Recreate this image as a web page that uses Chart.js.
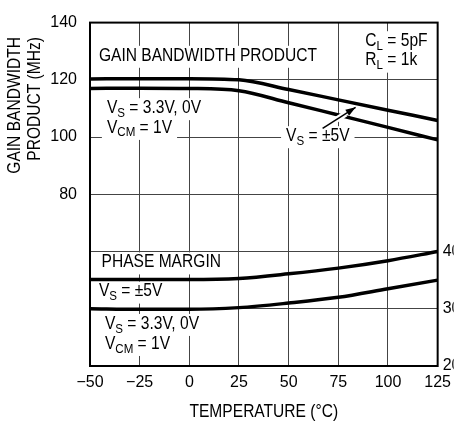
<!DOCTYPE html>
<html lang="en">
<head>
<meta charset="UTF-8">
<title>Gain Bandwidth and Phase Margin vs Temperature</title>
<script src="https://cdn.jsdelivr.net/npm/chart.js"></script>
<style>
  html, body { margin: 0; padding: 0; background: #fff; overflow: hidden; }
  .chart-box { position: relative; width: 458px; height: 423px; }
</style>
</head>
<body>
<div class="chart-box"><canvas id="gbw-chart"></canvas></div>
<script>
// temperature points (°C)
const temps = [-50, -25, 0, 25, 50, 75, 100, 125];
// gain bandwidth product (MHz), left axis
const gbwDual5V = [120.3, 120.4, 120.4, 120.0, 116.6, 113.0, 109.4, 105.8];
const gbw3V3 = [117.0, 117.1, 117.0, 116.2, 112.0, 107.7, 103.4, 99.0];
// phase margin (deg), right axis
const pmDual5V = [35.1, 35.1, 35.1, 35.3, 36.1, 37.1, 38.4, 40.0];
const pm3V3 = [30.0, 29.9, 29.9, 30.2, 31.0, 32.0, 33.5, 35.0];
// tick labels that are printed
const gbwTickLabels = [80, 100, 120, 140];
const pmTickLabels = [20, 30, 40];

const FONT = '"Liberation Sans", Arial, sans-serif';
const SX = 0.89; // horizontal squeeze to get a condensed look

// text notes, placed in data space: t = temperature, v = value on the given axis
const notes = [
  { axis: 'y',  t: -45.5, v: 128.4, parts: [['GAIN BANDWIDTH PRODUCT']] },
  { axis: 'y',  t: 88.6,  v: 133.5, parts: [['C'], ['L', 1], [' = 5pF']] },
  { axis: 'y',  t: 88.6,  v: 126.7, parts: [['R'], ['L', 1], [' = 1k']] },
  { axis: 'y',  t: -41.5, v: 110.1, parts: [['V'], ['S', 1], [' = 3.3V, 0V']] },
  { axis: 'y',  t: -41.5, v: 103.2, parts: [['V'], ['CM', 1], [' = 1V']] },
  { axis: 'y',  t: 48.7,  v: 100.3, parts: [['V'], ['S', 1], [' = \u00b15V']] },
  { axis: 'y1', t: -44.2, v: 38.1,  parts: [['PHASE MARGIN']] },
  { axis: 'y1', t: -45.5, v: 33.0,  parts: [['V'], ['S', 1], [' = \u00b15V']] },
  { axis: 'y1', t: -42.5, v: 27.35, parts: [['V'], ['S', 1], [' = 3.3V, 0V']] },
  { axis: 'y1', t: -42.5, v: 23.85, parts: [['V'], ['CM', 1], [' = 1V']] }
];
const arrowFrom = { t: 67.1, v: 103.0 };
const arrowTo = { t: 83.7, v: 110.4 };

function toPoints(ys) {
  return temps.map((t, i) => ({ x: t, y: ys[i] }));
}

function partFont(p) {
  return (p[1] ? '13px ' : '17.5px ') + FONT;
}

function measureParts(ctx, parts) {
  let w = 0;
  parts.forEach(p => {
    ctx.font = partFont(p);
    w += ctx.measureText(p[0]).width;
  });
  return w * SX;
}

function drawParts(ctx, x, cy, parts) {
  ctx.save();
  ctx.translate(x, cy);
  ctx.scale(SX, 1);
  ctx.textBaseline = 'middle';
  ctx.textAlign = 'left';
  let lx = 0;
  parts.forEach(p => {
    ctx.font = partFont(p);
    ctx.fillText(p[0], lx, p[1] ? 5 : 0);
    lx += ctx.measureText(p[0]).width;
  });
  ctx.restore();
}

function drawSqueezed(ctx, txt, x, y, rot, size, align) {
  ctx.save();
  ctx.translate(x, y);
  ctx.rotate(rot);
  ctx.scale(SX, 1);
  ctx.font = size + 'px ' + FONT;
  ctx.textAlign = align;
  ctx.textBaseline = 'middle';
  ctx.fillText(txt, 0, 0);
  ctx.restore();
}

const notesPlugin = {
  id: 'notes',
  beforeDatasetsDraw(chart) {
    const ctx = chart.ctx;
    const xs = chart.scales.x;
    ctx.save();
    notes.forEach(n => {
      const px = xs.getPixelForValue(n.t);
      const py = chart.scales[n.axis].getPixelForValue(n.v);
      const w = measureParts(ctx, n.parts);
      ctx.fillStyle = '#fff';
      ctx.fillRect(px - 5, py - 10, w + 10, 22);
      ctx.fillStyle = '#000';
      drawParts(ctx, px, py, n.parts);
    });
    ctx.restore();
  },
  afterDatasetsDraw(chart) {
    const ctx = chart.ctx;
    const xs = chart.scales.x, ys = chart.scales.y;
    const x1 = xs.getPixelForValue(arrowFrom.t), y1 = ys.getPixelForValue(arrowFrom.v);
    const x2 = xs.getPixelForValue(arrowTo.t), y2 = ys.getPixelForValue(arrowTo.v);
    ctx.save();
    // white halo where the arrow crosses the lower curve
    ctx.strokeStyle = '#fff';
    ctx.lineWidth = 6;
    ctx.beginPath();
    ctx.moveTo(x1 + (x2 - x1) * 0.3, y1 + (y2 - y1) * 0.3);
    ctx.lineTo(x1 + (x2 - x1) * 0.7, y1 + (y2 - y1) * 0.7);
    ctx.stroke();
    ctx.strokeStyle = '#000';
    ctx.lineWidth = 1.5;
    ctx.beginPath();
    ctx.moveTo(x1, y1);
    ctx.lineTo(x2, y2);
    ctx.stroke();
    const a = Math.atan2(y2 - y1, x2 - x1);
    ctx.fillStyle = '#000';
    ctx.beginPath();
    ctx.moveTo(x2, y2);
    ctx.lineTo(x2 - 10 * Math.cos(a) + 3.5 * Math.sin(a), y2 - 10 * Math.sin(a) - 3.5 * Math.cos(a));
    ctx.lineTo(x2 - 10 * Math.cos(a) - 3.5 * Math.sin(a), y2 - 10 * Math.sin(a) + 3.5 * Math.cos(a));
    ctx.closePath();
    ctx.fill();
    ctx.restore();
  },
  afterDraw(chart) {
    const ctx = chart.ctx;
    const a = chart.chartArea;
    ctx.save();
    // frame
    ctx.strokeStyle = '#000';
    ctx.lineWidth = 2;
    ctx.strokeRect(a.left, a.top, a.right - a.left, a.bottom - a.top);
    ctx.fillStyle = '#000';
    // two line left axis title, end aligned towards the top
    drawSqueezed(ctx, 'GAIN BANDWIDTH', 15, 37, -Math.PI / 2, 17.5, 'right');
    drawSqueezed(ctx, 'PRODUCT (MHz)', 35.5, 37, -Math.PI / 2, 17.5, 'right');
    // x axis title
    drawSqueezed(ctx, 'TEMPERATURE (\u00b0C)', (a.left + a.right) / 2, 412, 0, 17.5, 'center');
    ctx.restore();
  }
};

new Chart(document.getElementById('gbw-chart').getContext('2d'), {
  type: 'line',
  data: {
    datasets: [
      { label: 'GBW VS = ±5V', data: toPoints(gbwDual5V), yAxisID: 'y' },
      { label: 'GBW VS = 3.3V, 0V', data: toPoints(gbw3V3), yAxisID: 'y' },
      { label: 'PM VS = ±5V', data: toPoints(pmDual5V), yAxisID: 'y1' },
      { label: 'PM VS = 3.3V, 0V', data: toPoints(pm3V3), yAxisID: 'y1' }
    ].map(d => Object.assign(d, {
      borderColor: '#000', borderWidth: 3.5, pointRadius: 0, fill: false,
      cubicInterpolationMode: 'monotone'
    }))
  },
  options: {
    responsive: true,
    maintainAspectRatio: false,
    animation: false,
    layout: { padding: { top: 15, left: 0, right: 0, bottom: 0 } },
    plugins: { legend: { display: false }, tooltip: { enabled: false } },
    scales: {
      x: {
        type: 'linear', min: -50, max: 125,
        afterBuildTicks: s => { s.ticks = temps.map(v => ({ value: v })); },
        afterFit: s => { s.height = 57; },
        grid: { color: '#444', lineWidth: 1, drawTicks: false },
        border: { display: false },
        ticks: {
          color: '#000', padding: 7, maxRotation: 0, autoSkip: false,
          font: { family: FONT, size: 16 },
          callback: v => String(v).replace('-', '\u2212')
        }
      },
      y: {
        position: 'left', min: 20, max: 140,
        afterFit: s => { s.width = 90; },
        grid: { color: '#444', lineWidth: 1, drawTicks: false },
        border: { display: false },
        ticks: {
          stepSize: 20, color: '#000', padding: 13,
          font: { family: FONT, size: 16 },
          callback: v => gbwTickLabels.includes(v) ? String(v) : ''
        }
      },
      y1: {
        position: 'right', min: 20, max: 80,
        afterFit: s => { s.width = 16; },
        grid: { display: false, drawTicks: false },
        border: { display: false },
        ticks: {
          stepSize: 10, color: '#000', padding: 5,
          font: { family: FONT, size: 16 },
          callback: v => pmTickLabels.includes(v) ? String(v) : ''
        }
      }
    }
  },
  plugins: [notesPlugin]
});
</script>
</body>
</html>
